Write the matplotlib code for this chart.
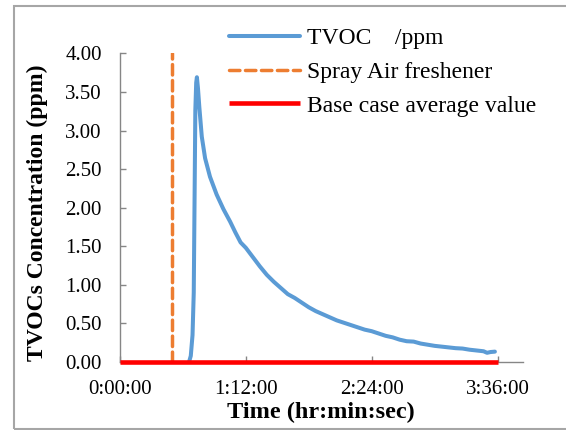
import matplotlib.pyplot as plt
from matplotlib.patches import Rectangle

# elapsed time in minutes and measured TVOC (ppm)
tiempo = [39.5, 40.5, 41.5, 42.2, 42.7, 43.1, 43.6, 44.0, 44.6, 45.4, 46.8, 48.7,
          51.5, 55.3, 59.2, 63, 66, 69, 72, 76, 80, 84, 88, 92, 96, 100, 104, 108,
          112, 116, 120, 124, 128, 132, 136, 140, 144, 148, 152, 156, 160, 164,
          168, 172, 176, 180, 184, 188, 192, 196, 200, 204, 208, 210, 212, 214.5]
tvoc = [0.00, 0.08, 0.35, 0.90, 2.20, 3.26, 3.62, 3.69, 3.55, 3.30, 2.92, 2.64,
        2.40, 2.17, 1.98, 1.82, 1.68, 1.55, 1.48, 1.36, 1.24, 1.13, 1.04, 0.96,
        0.88, 0.83, 0.77, 0.71, 0.66, 0.62, 0.58, 0.54, 0.51, 0.48, 0.45, 0.42,
        0.40, 0.37, 0.34, 0.32, 0.29, 0.27, 0.265, 0.24, 0.225, 0.21, 0.20, 0.19,
        0.18, 0.175, 0.16, 0.15, 0.14, 0.12, 0.13, 0.135]

t_spray = 30
base_t = [0, 216]
base_val = [0.0, 0.0]

xticks = [0, 72, 144, 216]
xtick_labels = ["0:00:00", "1:12:00", "2:24:00", "3:36:00"]
yticks = [0, 0.5, 1.0, 1.5, 2.0, 2.5, 3.0, 3.5, 4.0]

plt.rcParams["font.family"] = "Liberation Serif"

fig = plt.figure(figsize=(5.66, 4.30), dpi=100)
ax = fig.add_axes([0.212, 0.158, 0.7115, 0.718])

ax.plot(tiempo, tvoc, color="#5B9BD5", lw=2.9, solid_capstyle="round",
        solid_joinstyle="round", label="TVOC    /ppm", zorder=3)
ax.plot([t_spray, t_spray], [0, 4], color="#ED7D31", lw=2.5, dashes=(3.0, 1.6),
        dash_capstyle="round", label="Spray Air freshener", zorder=2)
ax.plot(base_t, base_val, color="#FF0000", lw=3.3, solid_capstyle="butt",
        label="Base case average value", zorder=4, clip_on=False)

ax.set_xlim(0, 230.4)
ax.set_ylim(0, 4)
ax.set_xticks(xticks)
ax.set_xticklabels(xtick_labels)
ax.set_yticks(yticks)
ax.set_yticklabels([f"{v:.2f}" for v in yticks])
ax.tick_params(axis="both", direction="in", length=4, width=1, color="#868686",
               labelsize=15)
ax.tick_params(axis="y", pad=13)
ax.tick_params(axis="x", pad=13)

for lado in ["top", "right"]:
    ax.spines[lado].set_visible(False)
for lado in ["left", "bottom"]:
    ax.spines[lado].set_color("#868686")
    ax.spines[lado].set_linewidth(1)

ax.set_xlabel("Time (hr:min:sec)", fontsize=17.5, fontweight="bold", va="center")
ax.xaxis.set_label_coords(0.5, -0.162)
ax.set_ylabel("TVOCs Concentration (ppm)", fontsize=17, fontweight="bold", va="center")
ax.yaxis.set_label_coords(-0.204, 0.485)

ax.legend(loc="upper left", bbox_to_anchor=(229 / 566, 1 - 27.5 / 430),
          bbox_transform=fig.transFigure, frameon=False, fontsize=17,
          handlelength=3.0, handletextpad=0.3, labelspacing=0.52, borderpad=0,
          borderaxespad=0)

# marco gris alrededor del gráfico
fig.patches.append(Rectangle((14 / 566, 1 / 430), 1.2, 1 - 7 / 430,
                             transform=fig.transFigure, fill=False,
                             edgecolor="#A6A6A6", lw=1.5, zorder=0))

fig.savefig("out.png", dpi=100)
